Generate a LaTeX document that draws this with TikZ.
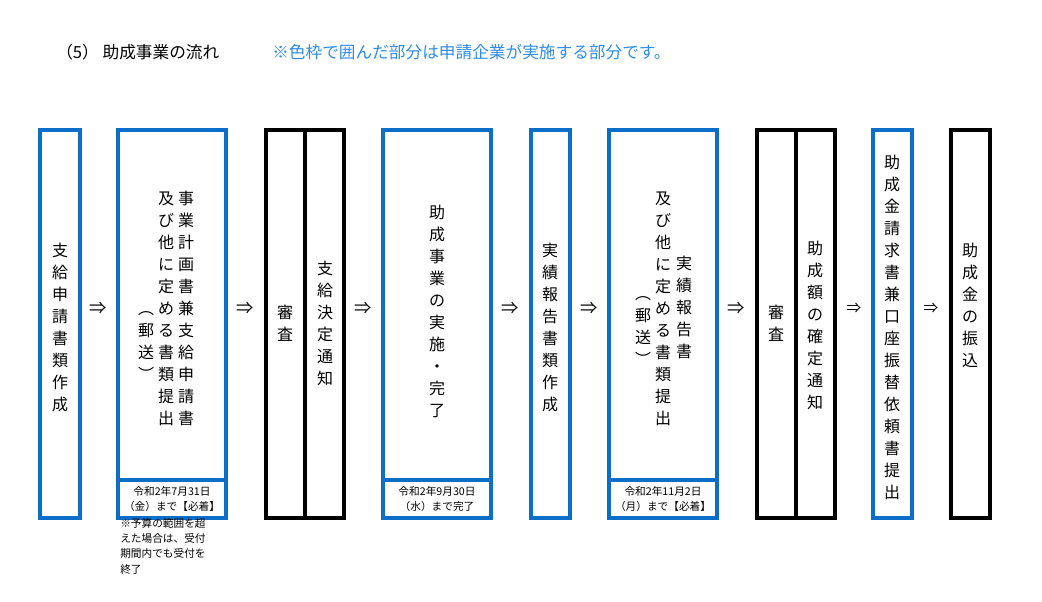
\documentclass[tikz,border=0pt]{standalone}
\usepackage{fontspec}
\setmainfont{Noto Sans CJK JP}
\definecolor{fb}{HTML}{0B6FC9}
\definecolor{tb}{HTML}{2E8CE6}
\newcommand\vt[1]{\vbox{\offinterlineskip\vtaux#1\relax}}
\def\vtaux#1{\ifx#1\relax\else\hbox to 16pt{\hss\vrule height 13.5pt depth 3pt width 0pt #1\hss}\expandafter\vtaux\fi}
\begin{document}
\begin{tikzpicture}[x=0.75pt,y=-0.75pt,
  bb/.style={draw=fb,line width=2.4pt},
  kb/.style={draw=black,line width=2.4pt},
  vtx/.style={anchor=north,inner sep=0pt,font=\fontsize{12}{14}\selectfont},
  arr/.style={inner sep=0pt,font=\fontsize{13}{15}\selectfont},
  sm/.style={inner sep=0pt,font=\fontsize{8}{11.5}\selectfont,align=center}]
\useasboundingbox (0,0) rectangle (1042,601);
\node[anchor=west,inner sep=0pt,font=\fontsize{12.5}{14}\selectfont] (h1) at (56,52) {（5） 助成事業の流れ};
\node[anchor=west,inner sep=0pt,font=\fontsize{12.5}{14}\selectfont,text=tb] (h2) at (272,52) {※色枠で囲んだ部分は申請企業が実施する部分です。};
% box1
\draw[bb] (40,130) rectangle (80,518);
\node[vtx] (t1) at (60,238) {\vt{支給申請書類作成}};
\node[arr] (a1) at (98,308) {⇒};
% box2
\draw[bb] (118,130) rectangle (226,518);
\draw[bb] (118,480) -- (226,480);
\node[vtx] (t2a) at (186,186) {\vt{事業計画書兼支給申請書}};
\node[vtx] (t2b) at (166,186) {\vt{及び他に定める書類提出}};
\node[vtx] (t2c) at (146,296) {\vt{︵郵送︶}};
\node[sm] (d2) at (172,499) {令和2年7月31日\\（金）まで【必着】};
\node[sm,anchor=north west,align=left] (n2) at (120,518) {※予算の範囲を超\\えた場合は、受付\\期間内でも受付を\\終了};
\node[arr] (a2) at (245,308) {⇒};
% box3
\draw[kb] (266,130) rectangle (344,518);
\draw[kb] (305,130) -- (305,518);
\node[vtx] (t3a) at (285,300) {\vt{審査}};
\node[vtx] (t3b) at (325,256) {\vt{支給決定通知}};
\node[arr] (a3) at (363,308) {⇒};
% box4
\draw[bb] (383,130) rectangle (491,518);
\draw[bb] (383,480) -- (491,480);
\node[vtx] (t4) at (437,200) {\vt{助成事業の実施・完了}};
\node[sm] (d4) at (437,499) {令和2年9月30日\\（水）まで完了};
\node[arr] (a4) at (510,308) {⇒};
% box5
\draw[bb] (531,130) rectangle (570,518);
\node[vtx] (t5) at (550,238) {\vt{実績報告書類作成}};
\node[arr] (a5) at (589,308) {⇒};
% box6
\draw[bb] (609,130) rectangle (717,518);
\draw[bb] (609,480) -- (717,480);
\node[vtx] (t6a) at (684,251) {\vt{実績報告書}};
\node[vtx] (t6b) at (663,186) {\vt{及び他に定める書類提出}};
\node[vtx] (t6c) at (643,281) {\vt{︵郵送︶}};
\node[sm] (d6) at (663,499) {令和2年11月2日\\（月）まで【必着】};
\node[arr] (a6) at (736,308) {⇒};
% box7
\draw[kb] (757,130) rectangle (835,518);
\draw[kb] (796,130) -- (796,518);
\node[vtx] (t7a) at (776,300) {\vt{審査}};
\node[vtx] (t7b) at (815,236) {\vt{助成額の確定通知}};
\node[arr,font=\fontsize{11}{13}\selectfont] (a7) at (854,308) {⇒};
% box8
\draw[bb] (873,130) rectangle (912,518);
\node[vtx] (t8) at (892,150) {\vt{助成金請求書兼口座振替依頼書提出}};
\node[arr,font=\fontsize{11}{13}\selectfont] (a8) at (931,308) {⇒};
% box9
\draw[kb] (951,130) rectangle (990,518);
\node[vtx] (t9) at (970,238) {\vt{助成金の振込}};
\end{tikzpicture}
\end{document}
